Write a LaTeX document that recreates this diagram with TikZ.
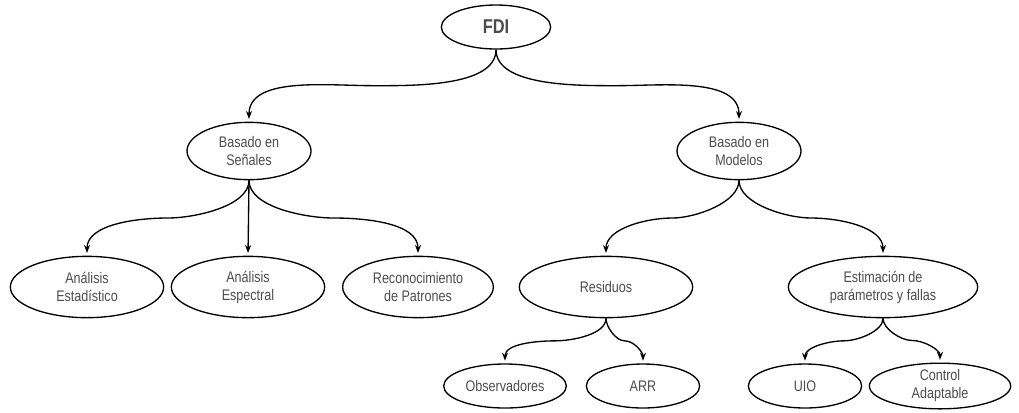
\documentclass[tikz,border=0pt]{standalone}
\usepackage{fontspec}
\setmainfont{Liberation Sans}[FakeStretch=0.82]
\usepackage{tikz}
\usetikzlibrary{
    shapes.geometric,
    arrows.meta,
    calc,
}

\tikzset{
    elli/.style={ellipse,draw=black,line width=1pt,inner sep=0pt,align=center,
        text=black!70,font=\fontsize{11.5}{13.5}\selectfont},
    flecha/.style={-{Stealth[length=6pt,width=4.5pt]},line width=1pt,shorten >=2pt},
}

\begin{document}
\begin{tikzpicture}[x=0.75pt,y=0.75pt]
    % \draw[help lines] grid (1019,-412);
    \useasboundingbox (0,0) rectangle (1019,-412);

    % Root
    \node[elli,minimum width=82pt,minimum height=33pt,
        font=\fontsize{15}{17}\selectfont\bfseries] (fdi) at (496,-27) {FDI};

    % Second level
    \node[elli,minimum width=93pt,minimum height=43pt] (sen) at (249,-151) {Basado en\\Señales};
    \node[elli,minimum width=93pt,minimum height=43pt] (mod) at (739,-151) {Basado en\\Modelos};

    % Third level
    \foreach \n / \x / \w / \lbl in {
            est/87/115/{Análisis\\Estadístico},
            esp/248/115/{Análisis\\Espectral},
            pat/418/113/{Reconocimiento\\de Patrones},
            res/606/130/{Residuos},
            par/883/142/{Estimación de\\parámetros y fallas}} {
        \node[elli,minimum width=\w pt,minimum height=46pt] (\n) at (\x,-287) {\lbl};
    }

    % Fourth level
    \foreach \n / \x / \w / \lbl in {
            obs/505/92/{Observadores},
            arr/643/85/{ARR},
            uio/805/85/{UIO},
            ctl/940/106/{Control\\Adaptable}} {
        \node[elli,minimum width=\w pt,minimum height=33pt] (\n) at (\x,-386) {\lbl};
    }

    % Curved arrows (parent/child/in/out)
    \foreach \a / \b / \i / \o in {
            fdi/sen/0/180, fdi/mod/180/0,
            sen/est/0/180, sen/pat/180/0,
            mod/res/0/180, mod/par/180/0,
            res/obs/0/180, res/arr/180/0,
            par/uio/0/180, par/ctl/180/0} {
        \draw[flecha] (\a.south) to[out=-90,in=\i,looseness=0.75] ($(\a.south)!0.5!(\b.north)$)
            to[out=\o,in=90,looseness=0.9] (\b.north);
    }

    % Straight arrow
    \draw[flecha] (sen.south) -- (esp.north);

\end{tikzpicture}
\end{document}
